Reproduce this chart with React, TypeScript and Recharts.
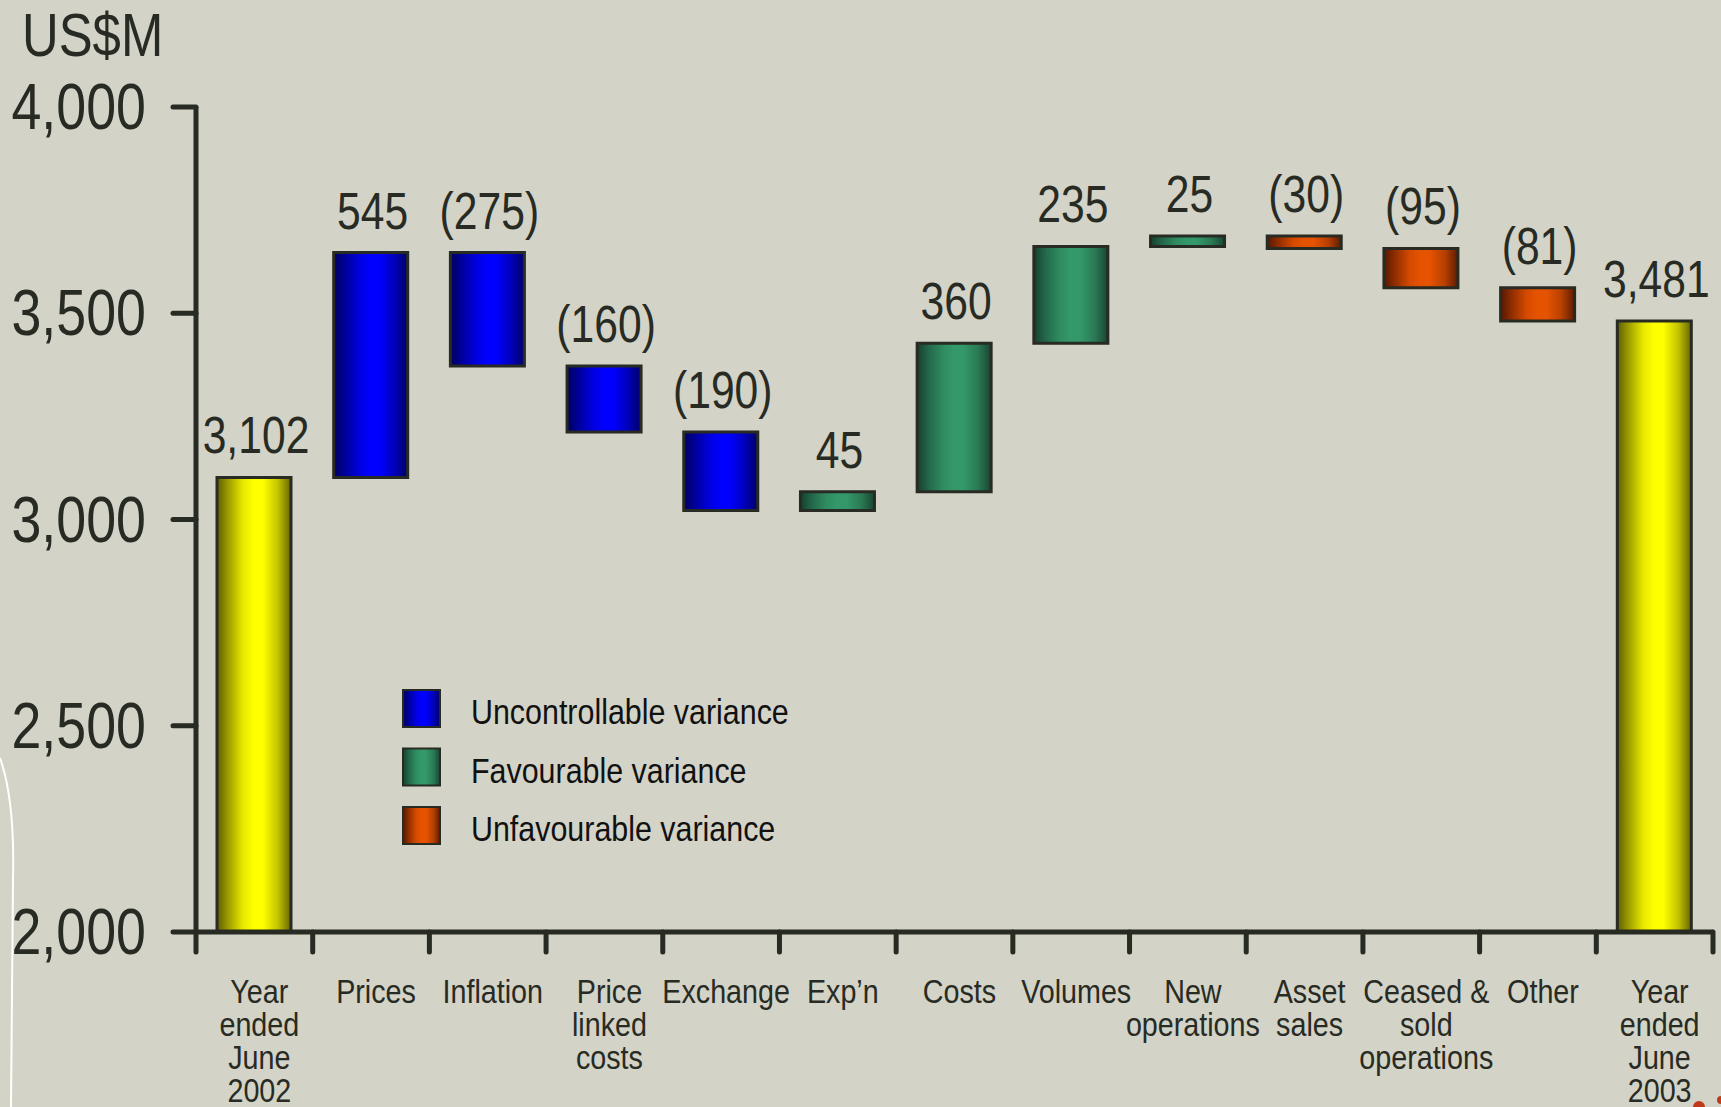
import React from 'react';
import { BarChart, Bar, XAxis, YAxis, Cell, LabelList, Legend, Label } from 'recharts';

// ---------- data ----------
const categoryLines: string[][] = [
  ['Year', 'ended', 'June', '2002'],
  ['Prices'],
  ['Inflation'],
  ['Price', 'linked', 'costs'],
  ['Exchange'],
  ['Exp\u2019n'],
  ['Costs'],
  ['Volumes'],
  ['New', 'operations'],
  ['Asset', 'sales'],
  ['Ceased &', 'sold', 'operations'],
  ['Other'],
  ['Year', 'ended', 'June', '2003'],
];
const changes: number[] = [3102, 545, -275, -160, -190, 45, 360, 235, 25, -30, -95, -81, 3481];
const kinds: string[] = [
  'total', 'uncontrollable', 'uncontrollable', 'uncontrollable', 'uncontrollable',
  'favourable', 'favourable', 'favourable', 'favourable',
  'unfavourable', 'unfavourable', 'unfavourable', 'total',
];
const yTicks: number[] = [2000, 2500, 3000, 3500, 4000];
const yUnit = 'US$M';
const legendKinds: string[] = ['uncontrollable', 'favourable', 'unfavourable'];
const legendLabels: string[] = ['Uncontrollable variance', 'Favourable variance', 'Unfavourable variance'];

// ---------- layout / style ----------
const W = 1721;
const H = 1107;
const PLOT_LEFT = 196;
const PLOT_RIGHT = 1713;
const PLOT_TOP = 107;
const PLOT_BOTTOM = 932;
const BAND = (PLOT_RIGHT - PLOT_LEFT) / categoryLines.length;
const BG = '#D3D3C7';
const INK = '#282b23';
const FONT = "'Liberation Sans', Arial, sans-serif";

const gradId: Record<string, string> = {
  total: 'gYellow',
  uncontrollable: 'gBlue',
  favourable: 'gGreen',
  unfavourable: 'gOrange',
};

const fmt = (v: number, isTotal: boolean) =>
  isTotal ? v.toLocaleString('en-US') : v < 0 ? `(${Math.abs(v)})` : String(v);

const data = (() => {
  let running = 0;
  return changes.map((v, i) => {
    const isTotal = kinds[i] === 'total';
    let range: [number, number];
    if (isTotal) {
      range = [yTicks[0], v];
      running = v;
    } else {
      const next = running + v;
      range = [Math.min(running, next), Math.max(running, next)];
      running = next;
    }
    return { name: categoryLines[i].join(' '), range, kind: kinds[i], label: fmt(v, isTotal) };
  });
})();

const Grad = ({ id, stops }: { id: string; stops: [number, string][] }) => (
  <linearGradient id={id} x1="0" y1="0" x2="1" y2="0">
    {stops.map(([o, c], i) => (
      <stop key={i} offset={o} stopColor={c} />
    ))}
  </linearGradient>
);

// Narrow text: Liberation Sans squeezed horizontally to mimic Arial Narrow
const NText = ({ x, y, size, anchor = 'start', fill = INK, lines, lineGap = 0, sx = 0.82 }: any) => (
  <text
    transform={`translate(${x} ${y}) scale(${sx} 1)`}
    x={0}
    y={0}
    textAnchor={anchor}
    fontSize={size}
    fill={fill}
    fontFamily={FONT}
  >
    {lines.map((l: string, i: number) => (
      <tspan key={i} x={0} dy={i === 0 ? 0 : lineGap}>
        {l}
      </tspan>
    ))}
  </text>
);

const CategoryTick = (props: any) => {
  const { x, index } = props;
  const cx = Number(x);
  const left = cx - BAND / 2;
  const lines = categoryLines[index] ?? [];
  const tickStyle = { stroke: INK, strokeWidth: 5, strokeLinecap: 'round' as const };
  return (
    <g>
      <line x1={left} x2={left} y1={PLOT_BOTTOM} y2={PLOT_BOTTOM + 20} {...tickStyle} />
      {index === categoryLines.length - 1 && (
        <line x1={left + BAND} x2={left + BAND} y1={PLOT_BOTTOM} y2={PLOT_BOTTOM + 20} {...tickStyle} />
      )}
      <NText x={cx + 5} y={1003} size={33} sx={0.87} anchor="middle" lines={lines} lineGap={33} />
    </g>
  );
};

const ValueTick = (props: any) => {
  const { x, y, payload } = props;
  return (
    <NText
      x={Number(x)}
      y={Number(y) + 22}
      size={64}
      sx={0.84}
      anchor="end"
      lines={[Number(payload.value).toLocaleString('en-US')]}
    />
  );
};

const ValueLabel = (props: any) => {
  const x = Number(props.x);
  const y = Number(props.y);
  const width = Number(props.width);
  const height = Number(props.height);
  const top = Math.min(y, y + height);
  return <NText x={x + width / 2 + 2} y={top - 24} size={52} anchor="middle" lines={[String(props.value)]} />;
};

const LegendContent = () => (
  <svg width={380} height={170} style={{ overflow: 'visible' }}>
    {legendKinds.map((k, i) => (
      <g key={k}>
        <rect x={1} y={i * 58.5 + 1} width={37} height={37} fill={`url(#${gradId[k]})`} stroke={INK} strokeWidth={2} />
        <NText x={69} y={i * 58.5 + 35} size={36} sx={0.845} fill="#111" lines={[legendLabels[i]]} />
      </g>
    ))}
  </svg>
);

export default function App() {
  return (
    <div style={{ position: 'absolute', left: 0, top: 0, width: W, height: H, background: BG, overflow: 'hidden' }}>
      <BarChart
        width={W}
        height={H}
        data={data}
        margin={{ top: PLOT_TOP, right: W - PLOT_RIGHT, bottom: 0, left: 0 }}
        barCategoryGap={0}
      >
        <defs>
          <Grad id="gYellow" stops={[[0, '#5e5e00'], [0.15, '#9c9c00'], [0.35, '#e8e800'], [0.5, '#ffff00'], [0.62, '#ffff00'], [0.82, '#c4c400'], [1, '#666600']]} />
          <Grad id="gBlue" stops={[[0, '#00005e'], [0.15, '#000099'], [0.35, '#0000e0'], [0.5, '#0000ff'], [0.62, '#0000ff'], [0.82, '#0000bb'], [1, '#000066']]} />
          <Grad id="gGreen" stops={[[0, '#17402c'], [0.15, '#22664a'], [0.35, '#2f8c60'], [0.5, '#34996a'], [0.62, '#34996a'], [0.82, '#2a7a55'], [1, '#1a4532']]} />
          <Grad id="gOrange" stops={[[0, '#571800'], [0.15, '#8f2d00'], [0.35, '#d44a00'], [0.5, '#e65300'], [0.62, '#e65300'], [0.82, '#b84000'], [1, '#5c1c00']]} />
        </defs>
        <XAxis
          dataKey="name"
          interval={0}
          height={H - PLOT_BOTTOM}
          tickLine={false}
          axisLine={{ stroke: INK, strokeWidth: 5 }}
          tick={<CategoryTick />}
        />
        <YAxis
          width={PLOT_LEFT}
          domain={[yTicks[0], yTicks[yTicks.length - 1]]}
          ticks={yTicks}
          interval={0}
          tickSize={23}
          tickMargin={27}
          tickLine={{ stroke: INK, strokeWidth: 5, strokeLinecap: 'round' }}
          axisLine={{ stroke: INK, strokeWidth: 5 }}
          tick={<ValueTick />}
        >
          <Label content={() => <NText x={22} y={56} size={62} lines={[yUnit]} />} />
        </YAxis>
        <Legend
          layout="vertical"
          align="center"
          verticalAlign="middle"
          wrapperStyle={{ left: 402, top: 689, width: 380, height: 170 }}
          content={<LegendContent />}
        />
        <Bar dataKey="range" barSize={74} isAnimationActive={false} stroke={INK} strokeWidth={3}>
          {data.map((d, i) => (
            <Cell key={i} fill={`url(#${gradId[d.kind]})`} />
          ))}
          <LabelList dataKey="label" content={<ValueLabel />} />
        </Bar>
      </BarChart>
      <svg width={W} height={H} style={{ position: 'absolute', left: 0, top: 0, pointerEvents: 'none' }}>
        <path d="M 0 758 Q 15 800 13 880 L 11 1107" fill="none" stroke="#ffffff" strokeWidth={2} />
        <circle cx={1699} cy={1107} r={6} fill="#c0391b" />
        <circle cx={1721} cy={1100} r={4} fill="#c0391b" />
      </svg>
    </div>
  );
}
